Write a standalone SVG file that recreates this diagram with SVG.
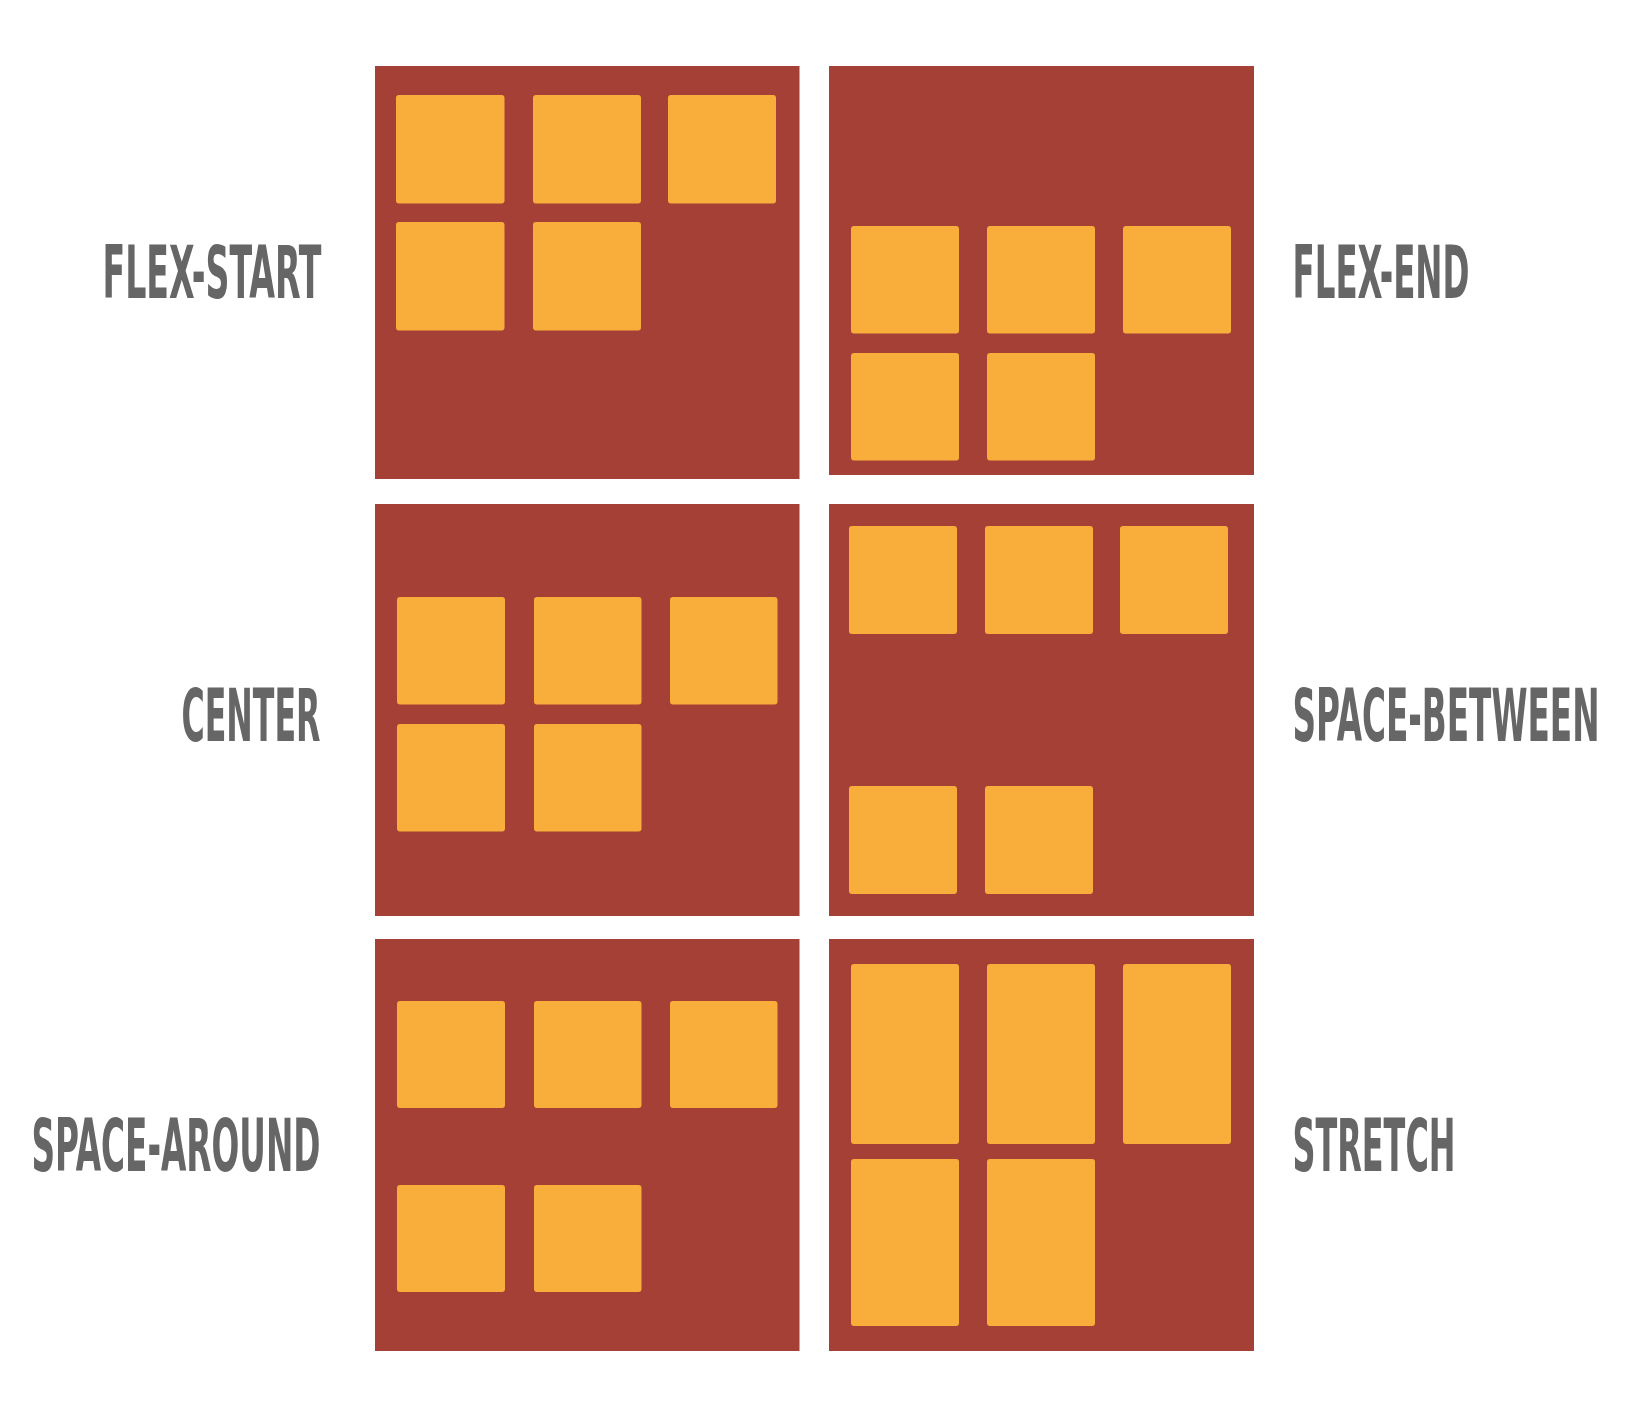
<svg xmlns="http://www.w3.org/2000/svg" width="1643" height="1415" viewBox="0 0 1643 1415">
<style>
.panel{fill:#A54036}
.tile{fill:#F9AE3B}
.lbl{font-family:"DejaVu Sans Condensed","Liberation Sans Narrow","Liberation Sans",sans-serif;font-weight:bold;font-size:73px;fill:#666666}
</style>
<rect x="0" y="0" width="1643" height="1415" fill="#ffffff"/>
<g id="flex-start">
<rect class="panel" x="375" y="66" width="424.5" height="413"/>
<rect class="tile" x="396" y="95" width="108.5" height="108.5" rx="3"/>
<rect class="tile" x="533" y="95" width="108" height="108.5" rx="3"/>
<rect class="tile" x="668" y="95" width="108" height="108.5" rx="3"/>
<rect class="tile" x="396" y="222" width="108.5" height="108.5" rx="3"/>
<rect class="tile" x="533" y="222" width="108" height="108.5" rx="3"/>
<text class="lbl" transform="scale(0.56,1)" x="183.04" y="298.5" textLength="391.07" lengthAdjust="spacingAndGlyphs">FLEX-START</text>
</g>
<g id="flex-end">
<rect class="panel" x="829" y="66" width="425" height="409"/>
<rect class="tile" x="851" y="226" width="108" height="107.5" rx="3"/>
<rect class="tile" x="987" y="226" width="108" height="107.5" rx="3"/>
<rect class="tile" x="1123" y="226" width="108" height="107.5" rx="3"/>
<rect class="tile" x="851" y="353" width="108" height="107.5" rx="3"/>
<rect class="tile" x="987" y="353" width="108" height="107.5" rx="3"/>
<text class="lbl" transform="scale(0.56,1)" x="2308.04" y="298.5" textLength="316.07" lengthAdjust="spacingAndGlyphs">FLEX-END</text>
</g>
<g id="center">
<rect class="panel" x="375" y="504" width="424.5" height="412"/>
<rect class="tile" x="397" y="597" width="108" height="107.5" rx="3"/>
<rect class="tile" x="534" y="597" width="107.5" height="107.5" rx="3"/>
<rect class="tile" x="670" y="597" width="107.5" height="107.5" rx="3"/>
<rect class="tile" x="397" y="724" width="108" height="107.5" rx="3"/>
<rect class="tile" x="534" y="724" width="107.5" height="107.5" rx="3"/>
<text class="lbl" transform="scale(0.56,1)" x="324.11" y="741" textLength="248.21" lengthAdjust="spacingAndGlyphs">CENTER</text>
</g>
<g id="space-between">
<rect class="panel" x="829" y="504" width="425" height="412"/>
<rect class="tile" x="849" y="526" width="108" height="108" rx="3"/>
<rect class="tile" x="985" y="526" width="108" height="108" rx="3"/>
<rect class="tile" x="1120" y="526" width="108" height="108" rx="3"/>
<rect class="tile" x="849" y="786" width="108" height="108" rx="3"/>
<rect class="tile" x="985" y="786" width="108" height="108" rx="3"/>
<text class="lbl" transform="scale(0.56,1)" x="2308.04" y="741" textLength="548.21" lengthAdjust="spacingAndGlyphs">SPACE-BETWEEN</text>
</g>
<g id="space-around">
<rect class="panel" x="375" y="939" width="424.5" height="412"/>
<rect class="tile" x="397" y="1001" width="108" height="107" rx="3"/>
<rect class="tile" x="534" y="1001" width="107.5" height="107" rx="3"/>
<rect class="tile" x="670" y="1001" width="107.5" height="107" rx="3"/>
<rect class="tile" x="397" y="1185" width="108" height="107" rx="3"/>
<rect class="tile" x="534" y="1185" width="107.5" height="107" rx="3"/>
<text class="lbl" transform="scale(0.56,1)" x="56.25" y="1171" textLength="516.07" lengthAdjust="spacingAndGlyphs">SPACE-AROUND</text>
</g>
<g id="stretch">
<rect class="panel" x="829" y="939" width="425" height="412"/>
<rect class="tile" x="851" y="964" width="108" height="180" rx="3"/>
<rect class="tile" x="987" y="964" width="108" height="180" rx="3"/>
<rect class="tile" x="1123" y="964" width="108" height="180" rx="3"/>
<rect class="tile" x="851" y="1159" width="108" height="167" rx="3"/>
<rect class="tile" x="987" y="1159" width="108" height="167" rx="3"/>
<text class="lbl" transform="scale(0.56,1)" x="2308.04" y="1171" textLength="291.07" lengthAdjust="spacingAndGlyphs">STRETCH</text>
</g>
<g id="connectors"/>
</svg>
